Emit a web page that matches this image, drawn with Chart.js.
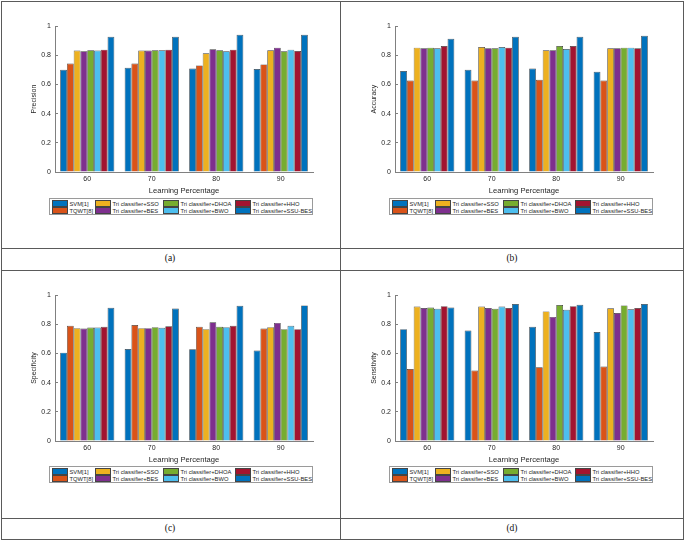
<!DOCTYPE html>
<html>
<head>
<meta charset="utf-8">
<script src="https://cdn.jsdelivr.net/npm/chart.js@4.4.0/dist/chart.umd.min.js"></script>
<style>
  html, body { margin: 0; padding: 0; background: #fff; }
  body { width: 685px; height: 541px; position: relative; overflow: hidden; font-family: "Liberation Sans", Arial, sans-serif; }
  .hl, .vl { position: absolute; background: #5a5a5a; }
  .hl { height: 1.5px; left: 1px; width: 683px; }
  .vl { width: 1.5px; top: 1px; height: 538px; }
  canvas { position: absolute; }
  .legend { position: absolute; width: 264px; height: 17px; border: 1px solid #9a9a9a; box-sizing: border-box; background: #fff; }
  .item { position: absolute; height: 8px; font-size: 5.8px; line-height: 8px; color: #262626; white-space: nowrap; }
  .sw { display: inline-block; width: 14px; height: 5px; border: 0.5px solid #444; vertical-align: middle; margin-right: 1.5px; position: relative; top: -0.5px; }
  .cap { position: absolute; width: 60px; margin-left: -30px; text-align: center; font-family: "Liberation Serif", "Times New Roman", serif; font-size: 9.5px; color: #111; }
</style>
</head>
<body>
<div class="hl" style="top:0.5px"></div>
<div class="hl" style="top:247.5px"></div>
<div class="hl" style="top:269.5px"></div>
<div class="hl" style="top:517.5px"></div>
<div class="hl" style="top:538.5px"></div>
<div class="vl" style="left:0.5px"></div>
<div class="vl" style="left:339.5px"></div>
<div class="vl" style="left:682.5px"></div>

<canvas id="chartA" width="320" height="180" style="left:10px;top:15px"></canvas>
<canvas id="chartB" width="320" height="180" style="left:350px;top:15px"></canvas>
<canvas id="chartC" width="320" height="180" style="left:10px;top:284px"></canvas>
<canvas id="chartD" width="320" height="180" style="left:350px;top:284px"></canvas>

<div class="legend" id="legA" style="left:49px;top:198px"></div>
<div class="legend" id="legB" style="left:389px;top:198px"></div>
<div class="legend" id="legC" style="left:49px;top:466px"></div>
<div class="legend" id="legD" style="left:389px;top:466px"></div>

<div class="cap" style="left:170px;top:253px">(a)</div>
<div class="cap" style="left:512px;top:253px">(b)</div>
<div class="cap" style="left:170px;top:523px">(c)</div>
<div class="cap" style="left:512px;top:523px">(d)</div>

<script>
// learning percentages on the x axis
var categories = ['60', '70', '80', '90'];
var methods = ['SVM[1]', 'TQWT[8]', 'Tri classifier+SSO', 'Tri classifier+BES',
               'Tri classifier+DHOA', 'Tri classifier+BWO', 'Tri classifier+HHO', 'Tri classifier+SSU-BES'];
var colors = ['#0072BD', '#D95319', '#EDB120', '#7E2F8E', '#77AC30', '#4DBEEE', '#A2142F', '#0072BD'];
var yTicks = [0, 0.2, 0.4, 0.6, 0.8, 1];

// one row per method (same order as methods), one value per learning percentage
var precision = [
  [0.701, 0.715, 0.710, 0.706],
  [0.744, 0.744, 0.731, 0.738],
  [0.833, 0.833, 0.814, 0.835],
  [0.828, 0.833, 0.842, 0.853],
  [0.835, 0.835, 0.835, 0.828],
  [0.833, 0.835, 0.828, 0.839],
  [0.839, 0.839, 0.839, 0.830],
  [0.928, 0.928, 0.941, 0.941]
];
var accuracy = [
  [0.692, 0.701, 0.710, 0.688],
  [0.627, 0.627, 0.633, 0.627],
  [0.853, 0.857, 0.835, 0.848],
  [0.848, 0.848, 0.835, 0.848],
  [0.853, 0.848, 0.864, 0.853],
  [0.848, 0.857, 0.844, 0.853],
  [0.864, 0.853, 0.864, 0.848],
  [0.914, 0.928, 0.928, 0.934]
];
var specificity = [
  [0.606, 0.631, 0.629, 0.620],
  [0.790, 0.796, 0.783, 0.771],
  [0.774, 0.774, 0.767, 0.781],
  [0.771, 0.774, 0.814, 0.810],
  [0.778, 0.781, 0.783, 0.767],
  [0.778, 0.776, 0.781, 0.790],
  [0.783, 0.787, 0.790, 0.767],
  [0.914, 0.909, 0.928, 0.930]
];
var sensitivity = [
  [0.767, 0.758, 0.783, 0.747],
  [0.493, 0.484, 0.505, 0.511],
  [0.923, 0.923, 0.889, 0.910],
  [0.912, 0.912, 0.851, 0.878],
  [0.916, 0.907, 0.932, 0.930],
  [0.907, 0.923, 0.900, 0.903],
  [0.925, 0.912, 0.925, 0.912],
  [0.916, 0.939, 0.934, 0.939]
];

var fontFamily = '"Liberation Sans", Arial, sans-serif';
var textColor = '#262626';

function makeChart(id, yTitle, values) {
  var datasets = [];
  for (var i in methods) {
    datasets.push({
      label: methods[i],
      data: values[i],
      backgroundColor: colors[i],
      borderColor: '#3c3c3c',
      borderWidth: 0.7,
      borderSkipped: 'bottom',
      categoryPercentage: 0.84,
      barPercentage: 1
    });
  }
  new Chart(document.getElementById(id), {
    type: 'bar',
    data: { labels: categories, datasets: datasets },
    options: {
      responsive: false,
      animation: false,
      layout: { padding: { left: 20, right: 17, top: 10, bottom: 0 } },
      plugins: { legend: { display: false }, tooltip: { enabled: false } },
      scales: {
        x: {
          grid: { display: false, drawTicks: false },
          border: { color: '#808080', width: 1 },
          ticks: { padding: 3, color: textColor, font: { size: 7, family: fontFamily } },
          title: { display: true, text: 'Learning Percentage', padding: 0, color: textColor,
                   font: { size: 7.6, family: fontFamily } },
          afterFit: function(s) { s.height = 23; }
        },
        y: {
          min: 0, max: 1,
          afterBuildTicks: function(s) { s.ticks = yTicks.map(function(v) { return { value: v }; }); },
          // small inward tick marks like matlab
          grid: { display: true, drawOnChartArea: false, drawTicks: true, tickLength: -3, color: '#808080' },
          border: { color: '#808080', width: 1 },
          ticks: { padding: 7, color: textColor, font: { size: 7, family: fontFamily },
                   callback: function(v) { return String(v); } },
          title: { display: true, text: yTitle, padding: 0, color: textColor,
                   font: { size: 7, family: fontFamily } },
          afterFit: function(s) { s.width = 25; }
        }
      }
    }
  });
}

// MATLAB style legend: 2 rows, 4 columns, filled column by column
function makeLegend(id) {
  var box = document.getElementById(id);
  var colX = [2, 45, 113, 185];
  var rowY = [0.5, 8];
  for (var i = 0; i < methods.length; i++) {
    var item = document.createElement('div');
    item.className = 'item';
    item.style.left = colX[Math.floor(i / 2)] + 'px';
    item.style.top = rowY[i % 2] + 'px';
    var sw = document.createElement('span');
    sw.className = 'sw';
    sw.style.background = colors[i];
    item.appendChild(sw);
    item.appendChild(document.createTextNode(methods[i]));
    box.appendChild(item);
  }
}

makeChart('chartA', 'Precision', precision);
makeChart('chartB', 'Accuracy', accuracy);
makeChart('chartC', 'Specificity', specificity);
makeChart('chartD', 'Sensitivity', sensitivity);
makeLegend('legA');
makeLegend('legB');
makeLegend('legC');
makeLegend('legD');
</script>
</body>
</html>
